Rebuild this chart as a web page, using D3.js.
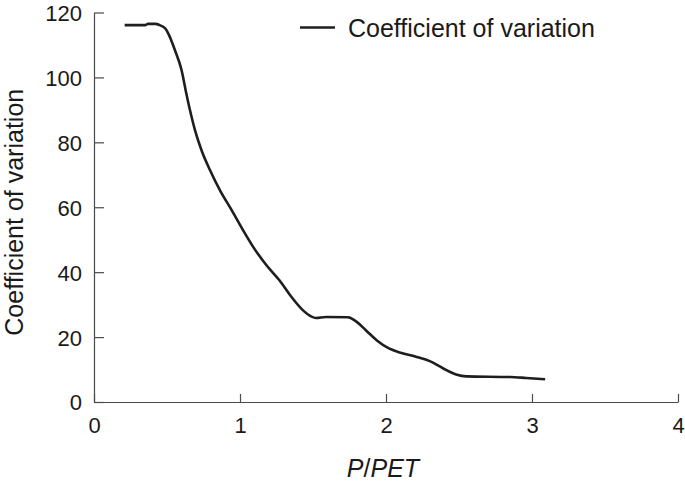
<!DOCTYPE html>
<html>
<head>
<meta charset="utf-8">
<script src="https://cdn.jsdelivr.net/npm/d3@7"></script>
<style>
  html, body { margin: 0; padding: 0; background: #fff; }
  svg { display: block; font-family: "Liberation Sans", Arial, Helvetica, sans-serif; }
</style>
</head>
<body>
<svg id="chart" width="685" height="482"></svg>
<script>
// ---- data ----
const pPet = [0.21, 0.35, 0.37, 0.42, 0.45, 0.49, 0.51, 0.555, 0.60, 0.628, 0.658, 0.692, 0.737, 0.795, 0.863, 0.943, 1.02, 1.09, 1.18, 1.27, 1.35, 1.43, 1.49, 1.52, 1.59, 1.74, 1.79, 1.86, 1.94, 2.02, 2.10, 2.21, 2.30, 2.39, 2.48, 2.55, 2.85, 2.96, 3.09];
const cv   = [116.1, 116.1, 116.5, 116.5, 116.1, 115.0, 113.4, 108.3, 102.2, 96.0, 89.8, 83.7, 77.5, 71.4, 65.2, 59.1, 53.0, 47.8, 42.2, 37.5, 32.5, 28.3, 26.3, 25.9, 26.2, 26.1, 25.0, 22.2, 18.9, 16.5, 15.2, 13.9, 12.6, 10.4, 8.5, 7.9, 7.7, 7.4, 7.0];
const xTicks = [0, 1, 2, 3, 4];
const yTicks = [0, 20, 40, 60, 80, 100, 120];
const seriesName = "Coefficient of variation";
const xTitle = ["P", "/", "PET"];
const yTitle = "Coefficient of variation";

const svg = d3.select("#chart");
const x = d3.scaleLinear().domain([0, 4]).range([94, 678]);
const y = d3.scaleLinear().domain([0, 120]).range([402, 12.5]);
const axisColor = "#4a4a4a";

// y axis (ticks inward)
const gy = svg.append("g").attr("transform", `translate(${x(0)},0)`)
  .call(d3.axisRight(y).tickValues(yTicks).tickSize(10).tickSizeOuter(0).tickFormat(d3.format("d")));
gy.select(".domain").attr("stroke", axisColor).attr("stroke-width", 1.2);
gy.selectAll(".tick line").attr("stroke", axisColor).attr("stroke-width", 1.2);
gy.selectAll(".tick text")
  .attr("x", -12).attr("text-anchor", "end").attr("dy", "0.36em")
  .attr("fill", "#1a1a1a").style("font-size", "22px").style("font-family", "'Liberation Sans', Arial, sans-serif");

// x axis (ticks inward)
const gx = svg.append("g").attr("transform", `translate(0,${y(0)})`)
  .call(d3.axisTop(x).tickValues(xTicks).tickSize(8).tickSizeOuter(0).tickFormat(d3.format("d")));
gx.select(".domain").attr("stroke", axisColor).attr("stroke-width", 1.2);
gx.selectAll(".tick line").attr("stroke", axisColor).attr("stroke-width", 1.2);
gx.selectAll(".tick text")
  .attr("y", 31).attr("dy", 0).attr("text-anchor", "middle")
  .attr("fill", "#1a1a1a").style("font-size", "22px").style("font-family", "'Liberation Sans', Arial, sans-serif");

// curve
const pts = pPet.map((v, i) => [v, cv[i]]);
svg.append("path").datum(pts)
  .attr("fill", "none").attr("stroke", "#1e1e1e").attr("stroke-width", 2.6)
  .attr("stroke-linejoin", "round")
  .attr("d", d3.line().x(d => x(d[0])).y(d => y(d[1])).curve(d3.curveMonotoneX));

// legend
svg.append("line").attr("x1", 300).attr("x2", 335).attr("y1", 27.5).attr("y2", 27.5)
  .attr("stroke", "#1e1e1e").attr("stroke-width", 2.6);
svg.append("text").attr("x", 348).attr("y", 36.5).text(seriesName)
  .attr("fill", "#1a1a1a").style("font-size", "25px");

// axis titles
const xt = svg.append("text").attr("x", (x(0) + x(4)) / 2 - 3).attr("y", 477).attr("text-anchor", "middle")
  .attr("fill", "#1a1a1a").style("font-size", "25px");
xt.append("tspan").style("font-style", "italic").text(xTitle[0]);
xt.append("tspan").text(xTitle[1]);
xt.append("tspan").style("font-style", "italic").text(xTitle[2]);

svg.append("text").attr("transform", `translate(23,${(y(0) + y(120)) / 2 + 5}) rotate(-90)`)
  .attr("text-anchor", "middle").attr("fill", "#1a1a1a").style("font-size", "25px").text(yTitle);
</script>
</body>
</html>
